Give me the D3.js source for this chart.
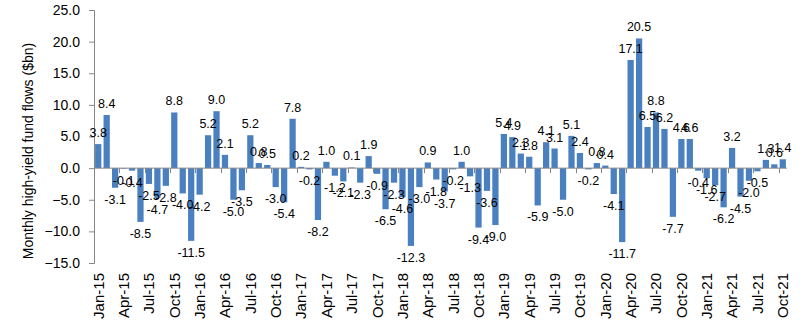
<!DOCTYPE html>
<html>
<head>
<meta charset="utf-8">
<script src="https://cdn.jsdelivr.net/npm/d3@7"></script>
<style>
  body { margin: 0; background: #fff; }
  text { font-family: "Liberation Sans", Arial, sans-serif; fill: #000; }
  .lbl { font-family: "Liberation Sans Narrow", "Arial Narrow", "Liberation Sans", sans-serif; font-size: 12.5px; }
</style>
</head>
<body>
<script>
// Monthly high-yield fund flows, $bn, Jan-15 .. Oct-21
var years = ["15", "16", "17", "18", "19", "20", "21"]
var monthNames = ["Jan", "Feb", "Mar", "Apr", "May", "Jun", "Jul", "Aug", "Sep", "Oct", "Nov", "Dec"]

var flows2015 = [3.8, 8.4, -3.1, -0.1, -0.4, -8.5, -2.5, -4.7, -2.8, 8.8, -4.0, -11.5]
var flows2016 = [-4.2, 5.2, 9.0, 2.1, -5.0, -3.5, 5.2, 0.8, 0.5, -3.0, -5.4, 7.8]
var flows2017 = [0.2, -0.2, -8.2, 1.0, -1.2, -2.1, 0.1, -2.3, 1.9, -0.9, -6.5, -2.3]
var flows2018 = [-4.6, -12.3, -3.0, 0.9, -1.8, -3.7, -0.2, 1.0, -1.3, -9.4, -3.6, -9.0]
var flows2019 = [5.4, 4.9, 2.3, 1.8, -5.9, 4.1, 3.1, -5.0, 5.1, 2.4, -0.2, 0.8]
var flows2020 = [0.4, -4.1, -11.7, 17.1, 20.5, 6.5, 8.8, 6.2, -7.7, 4.6, 4.6, -0.4]
var flows2021 = [-1.6, -2.7, -6.2, 3.2, -4.5, -2.0, -0.5, 1.3, 0.6, 1.4]

var yTicks = [-15, -10, -5, 0, 5, 10, 15, 20, 25]

var allFlows = [flows2015, flows2016, flows2017, flows2018, flows2019, flows2020, flows2021]
var data = []
allFlows.forEach(function(arr, yi) {
  arr.forEach(function(v, mi) {
    data.push({ month: monthNames[mi] + "-" + years[yi], mi: mi, value: v })
  })
})

var width = 811, height = 321
var plotLeft = 94, plotRight = 787, plotTop = 10, plotBottom = 263

var svg = d3.select("body").append("svg")
    .attr("width", width)
    .attr("height", height)

var x = d3.scaleBand()
    .domain(data.map(function(d) { return d.month }))
    .range([plotLeft, plotRight])
    .paddingInner(0.26)
    .paddingOuter(0.13)

var y = d3.scaleLinear()
    .domain([-15, 25])
    .range([plotBottom, plotTop])

// y axis
var yAxis = svg.append("g")
    .attr("transform", "translate(" + plotLeft + ",0)")
    .call(d3.axisLeft(y).tickValues(yTicks).tickSize(5).tickPadding(9).tickFormat(d3.format(".1f")))
yAxis.select(".domain").attr("stroke", "#868686")
yAxis.selectAll(".tick line").attr("stroke", "#868686")
yAxis.selectAll("text")
    .style("font-family", '"Liberation Sans", Arial, sans-serif')
    .style("font-size", "14px")
    .attr("fill", "#000")

// bars
svg.selectAll(".bar")
    .data(data)
  .enter().append("rect")
    .attr("class", "bar")
    .attr("x", function(d) { return x(d.month) })
    .attr("width", x.bandwidth())
    .attr("y", function(d) { return y(Math.max(0, d.value)) })
    .attr("height", function(d) { return Math.abs(y(d.value) - y(0)) })
    .attr("fill", "#4A80C0")

// zero line with quarter ticks
var step = x.step()
var quarterStarts = data.filter(function(d) { return d.mi % 3 === 0 })
svg.append("line")
    .attr("x1", plotLeft).attr("x2", plotRight)
    .attr("y1", y(0)).attr("y2", y(0))
    .attr("stroke", "#868686")
svg.selectAll(".qtick")
    .data(quarterStarts.slice(1))
  .enter().append("line")
    .attr("class", "qtick")
    .attr("x1", function(d) { return Math.round(x(d.month) - step * x.paddingInner() / 2) + 0.5 })
    .attr("x2", function(d) { return Math.round(x(d.month) - step * x.paddingInner() / 2) + 0.5 })
    .attr("y1", y(0)).attr("y2", y(0) + 5)
    .attr("stroke", "#868686")

// x labels, every quarter
svg.selectAll(".xlab")
    .data(quarterStarts)
  .enter().append("text")
    .attr("class", "xlab")
    .attr("transform", function(d) {
      return "translate(" + (x(d.month) + x.bandwidth() / 2) + ",273) rotate(-90)"
    })
    .attr("dy", "0.36em")
    .attr("text-anchor", "end")
    .style("font-size", "15px")
    .text(function(d) { return d.month })

// value labels
svg.selectAll(".lbl")
    .data(data)
  .enter().append("text")
    .attr("class", "lbl")
    .attr("x", function(d) { return x(d.month) + x.bandwidth() / 2 })
    .attr("y", function(d) { return d.value >= 0 ? y(d.value) - 7 : y(d.value) + 16 })
    .attr("text-anchor", "middle")
    .text(function(d) { return d.value.toFixed(1) })

// y title
svg.append("text")
    .attr("transform", "translate(28,151) rotate(-90)")
    .attr("dy", "0.35em")
    .attr("text-anchor", "middle")
    .style("font-size", "14px")
    .text("Monthly high-yield fund flows ($bn)")
</script>
</body>
</html>
